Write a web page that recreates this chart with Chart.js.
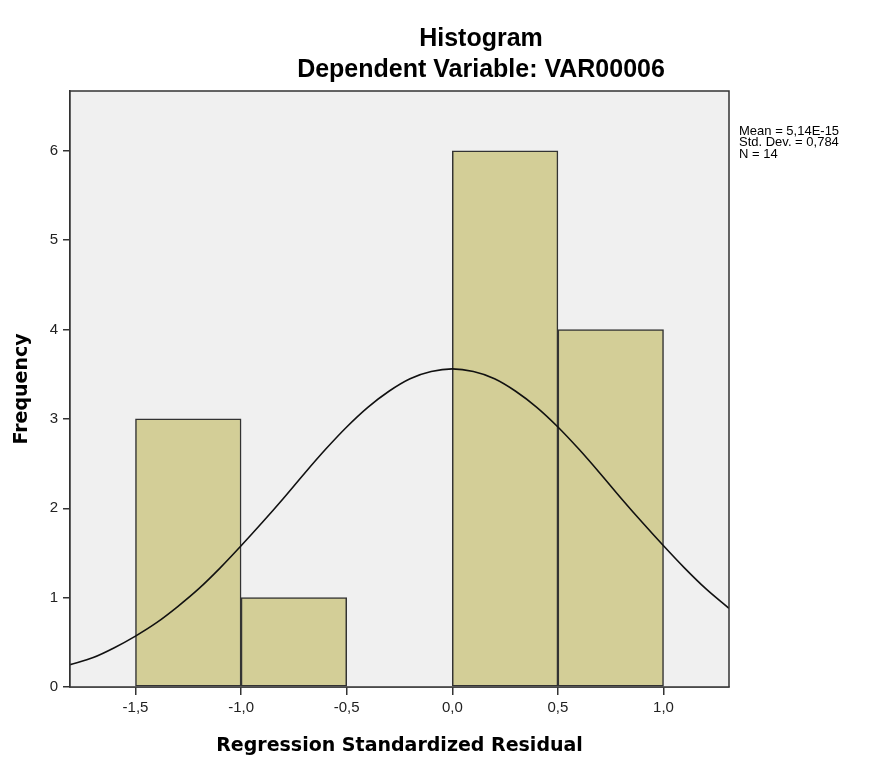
<!DOCTYPE html>
<html>
<head>
<meta charset="utf-8">
<script src="https://cdn.jsdelivr.net/npm/chart.js@4.4.1/dist/chart.umd.min.js"></script>
<style>
  body { margin: 0; background: #fff; }
  canvas { display: block; }
</style>
</head>
<body>
<canvas id="histChart" width="874" height="758"></canvas>
<script>
// bin centres (width 0.5) and counts
const binCenters = [-1.25, -0.75, -0.25, 0.25, 0.75];
const binCounts = [3, 1, 0, 6, 4];

// normal curve
const curveX = [-1.81, -1.7, -1.6, -1.5, -1.4, -1.3, -1.2, -1.1, -1.0, -0.9, -0.8, -0.7, -0.6, -0.5, -0.4, -0.3,
    -0.2, -0.1, 0.0, 0.1, 0.2, 0.3, 0.4, 0.5, 0.6, 0.7, 0.8, 0.9, 1.0, 1.1, 1.2, 1.31];
const curveY = [0.25, 0.33, 0.44, 0.57, 0.72, 0.90, 1.10, 1.33, 1.58, 1.84, 2.11, 2.39, 2.66, 2.91, 3.13, 3.31,
    3.45, 3.53, 3.56, 3.53, 3.45, 3.31, 3.13, 2.91, 2.66, 2.39, 2.11, 1.84, 1.58, 1.33, 1.10, 0.88];

const titleLines = ['Histogram', 'Dependent Variable: VAR00006'];
const statLines = ['Mean = 5,14E-15', 'Std. Dev. = 0,784', 'N = 14'];

const frameColor = '#333333';

const plotFrame = {
    id: 'plotFrame',
    beforeDatasetsDraw(chart) {
        const { ctx, chartArea: a } = chart;
        ctx.save();
        ctx.fillStyle = '#f0f0f0';
        ctx.fillRect(a.left, a.top, a.right - a.left, a.bottom - a.top);
        ctx.restore();
    },
    afterDraw(chart) {
        const { ctx, chartArea: a } = chart;
        ctx.save();
        ctx.strokeStyle = frameColor;
        ctx.lineWidth = 1.5;
        ctx.strokeRect(a.left, a.top, a.right - a.left, a.bottom - a.top);

        // titles
        ctx.fillStyle = '#000';
        ctx.textAlign = 'center';
        ctx.textBaseline = 'middle';
        ctx.font = 'bold 25px "Liberation Sans", Arial, sans-serif';
        ctx.fillText(titleLines[0], 481, 39);
        ctx.fillText(titleLines[1], 481, 70);

        // stats box on the right
        ctx.textAlign = 'left';
        ctx.font = '13px "Liberation Sans", Arial, sans-serif';
        statLines.forEach((t, i) => ctx.fillText(t, 739, 131 + i * 11.5));
        ctx.restore();
    }
};

const fmtX = v => v.toFixed(1).replace('.', ',');

new Chart(document.getElementById('histChart'), {
    data: {
        datasets: [
            {
                type: 'line',
                data: curveX.map((x, i) => ({ x: x, y: curveY[i] })),
                borderColor: '#111',
                borderWidth: 1.6,
                pointRadius: 0,
                cubicInterpolationMode: 'monotone',
                fill: false,
                order: 0
            },
            {
                type: 'bar',
                data: binCenters.map((x, i) => ({ x: x, y: binCounts[i] })),
                backgroundColor: '#d3ce97',
                borderColor: frameColor,
                borderWidth: 1.5,
                borderSkipped: false,
                barPercentage: 1,
                categoryPercentage: 1,
                order: 1
            }
        ]
    },
    options: {
        responsive: false,
        animation: false,
        layout: { padding: { left: 0, top: 91, right: 145, bottom: 0 } },
        plugins: {
            legend: { display: false },
            tooltip: { enabled: false },
            title: { display: false }
        },
        scales: {
            x: {
                type: 'linear',
                min: -1.81,
                max: 1.31,
                offset: false,
                afterFit: s => { s.height = 71; },
                border: { display: true, color: frameColor, width: 1.5 },
                grid: { offset: false, drawOnChartArea: false, drawTicks: true, tickLength: 8, color: frameColor, lineWidth: 1.5 },
                ticks: {
                    stepSize: 0.5,
                    includeBounds: false,
                    padding: 4,
                    color: '#222',
                    font: { family: '"Liberation Sans", Arial, sans-serif', size: 15 },
                    callback: v => fmtX(v)
                },
                title: {
                    display: true,
                    text: 'Regression Standardized Residual',
                    color: '#000',
                    padding: { top: 0, bottom: 1 },
                    font: { family: '"DejaVu Sans", Verdana, sans-serif', size: 19, weight: 'bold' }
                }
            },
            y: {
                min: 0,
                max: 6.67,
                afterFit: s => { s.width = 70; },
                border: { display: true, color: frameColor, width: 1.5 },
                grid: { drawOnChartArea: false, drawTicks: true, tickLength: 7, color: frameColor, lineWidth: 1.5 },
                ticks: {
                    stepSize: 1,
                    includeBounds: false,
                    padding: 5,
                    color: '#222',
                    font: { family: '"Liberation Sans", Arial, sans-serif', size: 15 }
                },
                title: {
                    display: true,
                    text: 'Frequency',
                    color: '#000',
                    padding: { top: 11, bottom: 0 },
                    font: { family: '"DejaVu Sans", Verdana, sans-serif', size: 19, weight: 'bold' }
                }
            }
        }
    },
    plugins: [plotFrame]
});
</script>
</body>
</html>
